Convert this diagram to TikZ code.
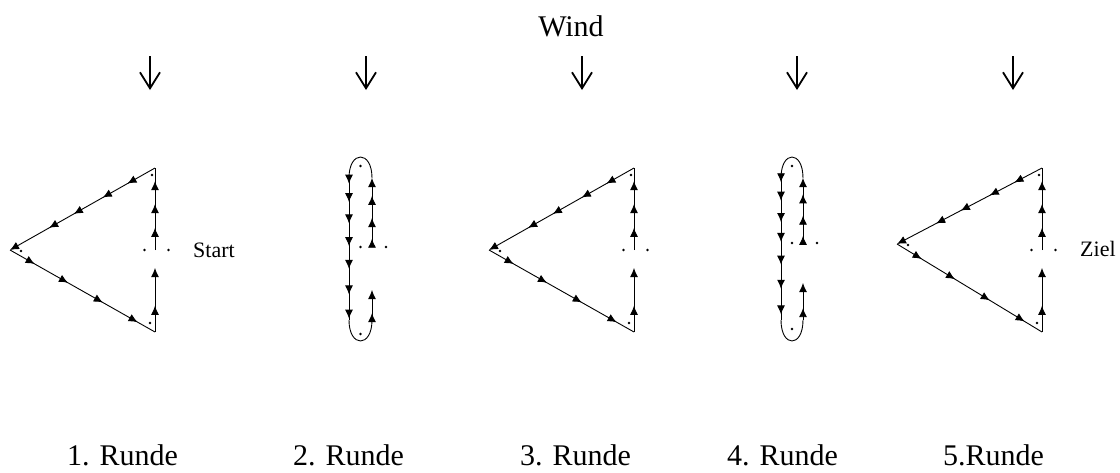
\documentclass[tikz,border=0pt]{standalone}
\usepackage{fontspec}
\setmainfont{Liberation Serif}
\usetikzlibrary{arrows.meta,decorations.markings}
\tikzset{
  mk/.tip={Latex[length=9pt,width=8pt]},
  track/.style={line width=0.9pt},
  am/.style={postaction={decorate,decoration={markings,mark=at position #1 with {\arrow{mk}}}}},
  dotn/.style={circle,fill=black,inner sep=0pt,minimum size=2.8pt},
  wind/.style={line width=1.8pt,-{Straight Barb[length=16pt,width=20pt]}},
  big/.style={font=\fontsize{30}{36}\selectfont,inner sep=0pt},
  small/.style={font=\fontsize{22}{26}\selectfont,inner sep=0pt},
}
\newcommand{\racetri}[3]{%
  \coordinate (#1S) at (#2,250);
  \coordinate (#1A) at (#2,168);
  \coordinate (#1B) at (#2,332);
  \coordinate (#1T) at ({#2-145},#3);
  \coordinate (#1G) at (#2,268);
  \draw[track,am=0.27,am=0.56,am=0.84] (#1S) -- (#1A);
  \draw[track,-mk,am=0.19,am=0.36,am=0.56,am=0.73] (#1A) -- (#1T);
  \draw[track,am=0.17,am=0.40,am=0.64,am=0.88] (#1T) -- (#1B);
  \draw[track,-mk,am=0.41] (#1B) -- (#1G);
  \node[dotn] (#1d1) at ({#2-3},175) {};
  \node[dotn] (#1d2) at ({#2-5},323) {};
  \node[dotn] (#1d3) at ({#2-134},{#3+1}) {};
  \node[dotn] (#1d4) at ({#2-10.5},250) {};
  \node[dotn] (#1d5) at ({#2+13.5},250) {};
}
% #1 id, #2 left x, #3 right x, #4 start y, #5 gap y, #6 upper marks, #7 left marks, #8 lower mark, #9 bottom dot y
\newcommand{\raceloop}[9]{%
  \coordinate (#1S) at (#3,#4);
  \coordinate (#1RT) at (#3,178);
  \coordinate (#1LT) at (#2,178);
  \coordinate (#1LB) at (#2,320);
  \coordinate (#1RB) at (#3,320);
  \coordinate (#1G) at (#3,#5);
  \draw[track,-mk,am=#6] (#1S) -- (#1RT);
  \draw[track] (#1RT) .. controls (#3,150) and (#2,150) .. (#1LT);
  \draw[track,#7] (#1LT) -- (#1LB);
  \draw[track] (#1LB) .. controls (#2,348) and (#3,348) .. (#1RB);
  \draw[track,-mk,am=#8] (#1RB) -- (#1G);
  \node[dotn] (#1d1) at ({(#2+#3)/2},166) {};
  \node[dotn] (#1d2) at ({(#2+#3)/2},#9) {};
  \node[dotn] (#1d3) at ({(#2+#3)/2},#4) {};
  \node[dotn] (#1d4) at ({#3+14},#4) {};
}
\begin{document}
\begin{tikzpicture}[x=1pt,y=-1pt]
\useasboundingbox (0,0) rectangle (1120,472);
% title
\node[big,anchor=base] (wind) at (571,36) {Wind};
% wind arrows
\foreach \i/\x in {1/150,2/366,3/582,4/797,5/1013}{
  \coordinate (wt\i) at (\x,56);
  \coordinate (wb\i) at (\x,90);
  \draw[wind] (wt\i) -- (wb\i);
}
% courses
\racetri{a}{155}{250}
\raceloop{b}{349}{372}{247}{290}{0.12,am=0.42,am=0.74}{am=0.04,am=0.17,am=0.32,am=0.48,am=0.64,am=0.82,am=0.99}{0.23}{334}
\racetri{c}{634}{250}
\raceloop{d}{781}{803}{243}{283}{0.11,am=0.42,am=0.75}{am=0.03,am=0.16,am=0.31,am=0.45,am=0.61,am=0.78,am=0.96}{0.32}{329}
\racetri{e}{1042}{244}
% start / finish
\node[small,anchor=base west] (start) at (193,257) {Start};
\node[small,anchor=base west] (ziel) at (1080,256) {Ziel};
% round labels
\node[big,anchor=base west] (r1) at (67,465) {1. Runde};
\node[big,anchor=base west] (r2) at (293,465) {2. Runde};
\node[big,anchor=base west] (r3) at (520,465) {3. Runde};
\node[big,anchor=base west] (r4) at (727,465) {4. Runde};
\node[big,anchor=base west] (r5) at (943,465) {5.Runde};
\end{tikzpicture}
\end{document}
